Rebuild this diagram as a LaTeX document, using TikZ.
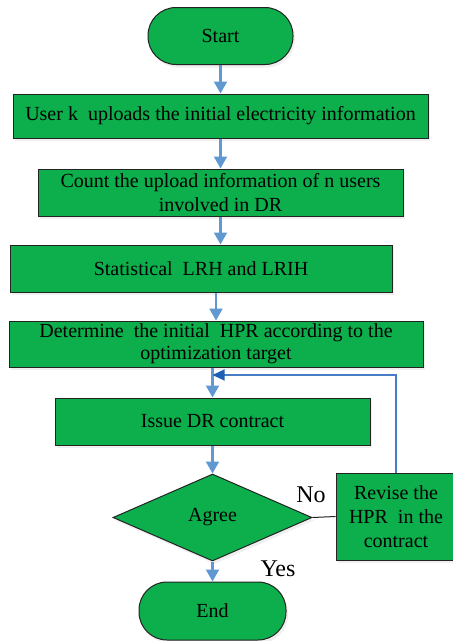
\documentclass[tikz,border=0pt]{standalone}
\usepackage{fontspec}
\setmainfont{Liberation Serif}
\usetikzlibrary{shapes.geometric,arrows.meta,shadows}

\definecolor{boxgreen}{RGB}{12,175,76}
\definecolor{edgegray}{RGB}{35,35,35}
\definecolor{flowblue}{RGB}{96,152,210}
\definecolor{loopblue}{RGB}{70,125,196}
\definecolor{loophead}{RGB}{30,96,180}

\tikzset{
  box/.style={draw=edgegray, line width=1pt, fill=boxgreen, inner sep=2pt,
    font=\fontsize{20}{24}\selectfont, align=center,
    drop shadow={opacity=0.12, shadow xshift=2pt, shadow yshift=-3pt}},
  terminal/.style={box, rounded corners=28pt},
  decision/.style={box, shape=diamond, aspect=2.29, inner sep=0pt},
  arr/.style={draw=flowblue, line width=2.2pt,
    -{Triangle[width=13pt,length=12pt]}},
  loopline/.style={draw=loopblue, line width=1.2pt,
    -{Triangle[width=11pt,length=12pt,color=loophead]}},
  joinline/.style={draw=edgegray, line width=1pt},
  branch/.style={font=\fontsize{24}{28}\selectfont}
}

\begin{document}
\begin{tikzpicture}[x=1pt, y=-1pt]
  \useasboundingbox (0,0) rectangle (453,641);
  \fill[white] (0,0) rectangle (453,641);

  \node[terminal, minimum width=145pt, minimum height=57pt] (start) at (220.5,36) {Start};
  \node[box, minimum width=415pt, minimum height=44pt] (upload) at (220.5,116)
    {User k\ \ uploads the initial electricity information};
  \node[box, minimum width=365pt, minimum height=47pt] (count) at (220.5,192.5)
    {Count the upload information of n users\\involved in DR};
  \node[box, minimum width=382pt, minimum height=47pt] (stat) at (201,268.5)
    {Statistical\ \ LRH and LRIH};
  \node[box, minimum width=414pt, minimum height=46pt, font=\fontsize{20}{22}\selectfont] (hpr) at (216,344)
    {Determine\ \ the initial\ \ HPR according to the\\optimization target};
  \node[box, minimum width=315pt, minimum height=47pt] (issue) at (212.5,421.5)
    {Issue DR contract};
  \node[decision, minimum width=199pt, minimum height=87pt] (agree) at (212.5,517.5) {Agree};
  \node[box, minimum width=120pt, minimum height=87pt] (revise) at (396,516.5)
    {Revise the\\HPR\ \ in the\\contract};
  \node[terminal, minimum width=147pt, minimum height=58pt] (end) at (212.5,611) {End};

  \coordinate (loopin) at (212.5,375);

  \draw[arr] (start) -- (upload);
  \draw[arr] (upload) -- (count);
  \draw[arr] (count.south) -- (count.south |- stat.north);
  \draw[arr] (stat.south -| hpr.north) -- (hpr.north);
  \draw[arr] (issue.north |- hpr.south) -- (issue.north);
  \draw[arr] (issue) -- (agree);
  \draw[arr] (agree) -- (end);
  \draw[joinline] (agree.east) -- (revise.west);
  \draw[loopline] (revise.north) |- (loopin);

  \node[branch] (no) at (311,495) {No};
  \node[branch] (yes) at (278,569) {Yes};
\end{tikzpicture}
\end{document}
